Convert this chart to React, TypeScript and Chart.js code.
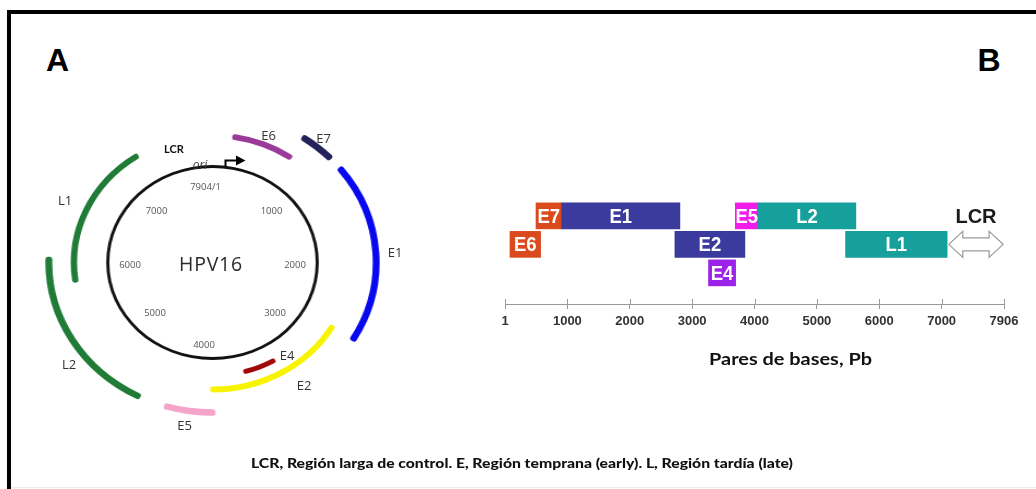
import React, { useEffect, useLayoutEffect, useRef } from 'react';
import { Chart, registerables } from 'chart.js';

Chart.register(...registerables);

// ---------------- Panel A: circular genome map (positions in bp) ----------------
const GENOME_LENGTH = 7904;
const outerRingGenes = ['E7', 'E1', 'E5', 'L2'];
const outerRingStarts = [727, 1113, 3930, 4527];
const outerRingEnds = [1019, 2668, 4330, 5976];
const middleRingGenes = ['E6', 'E2', 'L1'];
const middleRingStarts = [180, 2628, 5728];
const middleRingEnds = [764, 3974, 7193];
const innerRingGenes = ['E4'];
const innerRingStarts = [3282];
const innerRingEnds = [3634];
const circleTickLabels = ['7904/1', '1000', '2000', '3000', '4000', '5000', '6000', '7000'];

// ---------------- Panel B: linear genome map ----------------
const barGenes = ['E7', 'E1', 'E5', 'L2', 'E6', 'E2', 'L1', 'E4'];
const barRows = [1, 1, 1, 1, 2, 2, 2, 3];
const barStarts = [497, 909, 3692, 4061, 80, 2724, 5460, 3263];
const barEnds = [909, 2804, 4061, 5625, 571, 3846, 7088, 3697];
const lcrLabel = 'LCR';
const lcrRange = [7115, 7986];
const lcrRow = 2;
const xTickValues = [0, 1000, 2000, 3000, 4000, 5000, 6000, 7000, 8000];
const xTickLabels = ['1', '1000', '2000', '3000', '4000', '5000', '6000', '7000', '7906'];
const xAxisTitle = 'Pares de bases, Pb';
const caption = 'LCR, Región larga de control. E, Región temprana (early). L, Región tardía (late)';

// ---------------- styles ----------------
const ringColors: Record<string, string> = {
  E7: '#23235a', E1: '#0808ef', E5: '#f4a5c9', L2: '#1f7b35',
  E6: '#9a3b9a', E2: '#f8f400', L1: '#1f7b35', E4: '#a10909',
};
const barColors: Record<string, string> = {
  E7: '#da4a1c', E6: '#da4a1c', E1: '#3b3a9d', E2: '#3b3a9d',
  E5: '#f21ce9', E4: '#9c22ea', L2: '#15a09b', L1: '#15a09b',
};
const TRANSPARENT = 'rgba(0,0,0,0)';

// label placements for panel A (page px)
const ringLabelPos: Record<string, [number, number]> = {
  LCR: [174, 147.5], E6: [268.5, 134.5], E7: [323.5, 137.5], E1: [395, 251.5],
  E4: [287, 354.5], E2: [304, 385], E5: [184.5, 424.5], L2: [69, 363.5], L1: [65, 200],
};
const circleTickPos: [number, number][] = [
  [205.5, 186.5], [271.5, 211], [295, 264.5], [275, 312.5],
  [204, 345], [155, 312.5], [130, 264.5], [156.5, 211],
];

function ringSegments(genes: string[], starts: number[], ends: number[]) {
  const data: number[] = [];
  const bg: string[] = [];
  let pos = 0;
  genes.forEach((g, i) => {
    if (starts[i] > pos) { data.push(starts[i] - pos); bg.push(TRANSPARENT); }
    data.push(ends[i] - starts[i]);
    bg.push(ringColors[g]);
    pos = ends[i];
  });
  if (pos < GENOME_LENGTH) { data.push(GENOME_LENGTH - pos); bg.push(TRANSPARENT); }
  return { data, bg };
}

function FitText(props: { text: string; left: number; cy: number; width: number; font: string; color: string }) {
  const ref = useRef<HTMLSpanElement>(null);
  useLayoutEffect(() => {
    const el = ref.current;
    if (!el) return;
    el.style.transform = 'translateY(-50%)';
    const w = el.getBoundingClientRect().width;
    if (w > 0) el.style.transform = `translateY(-50%) scaleX(${props.width / w})`;
  }, [props.text, props.width, props.font]);
  return (
    <span
      ref={ref}
      style={{
        position: 'absolute', left: props.left, top: props.cy, whiteSpace: 'nowrap',
        font: props.font, color: props.color, lineHeight: 1, transformOrigin: 'left center',
      }}
    >
      {props.text}
    </span>
  );
}

function Label(props: { text: string; x: number; y: number; font: string; color: string; ls?: number }) {
  return (
    <span
      style={{
        position: 'absolute', left: props.x, top: props.y, transform: 'translate(-50%, -50%)',
        whiteSpace: 'nowrap', font: props.font, color: props.color, lineHeight: 1,
        letterSpacing: props.ls ? `${props.ls}px` : undefined,
      }}
    >
      {props.text}
    </span>
  );
}

export default function App() {
  const circleRef = useRef<HTMLCanvasElement>(null);
  const barRef = useRef<HTMLCanvasElement>(null);

  useEffect(() => {
    const outer = ringSegments(outerRingGenes, outerRingStarts, outerRingEnds);
    const middle = ringSegments(middleRingGenes, middleRingStarts, middleRingEnds);
    const inner = ringSegments(innerRingGenes, innerRingStarts, innerRingEnds);
    const common = { borderWidth: 0, hoverBorderWidth: 0, borderAlign: 'inner' as const, offset: 0, hoverOffset: 0 };
    const circle = new Chart(circleRef.current!, {
      type: 'doughnut',
      data: {
        datasets: [
          { data: outer.data, backgroundColor: outer.bg, weight: 7, borderRadius: 2.5, ...common },
          { data: [1], backgroundColor: [TRANSPARENT], weight: 16.25, ...common },
          { data: middle.data, backgroundColor: middle.bg, weight: 6.5, borderRadius: 2.5, ...common },
          { data: [1], backgroundColor: [TRANSPARENT], weight: 8, ...common },
          { data: inner.data, backgroundColor: inner.bg, weight: 5.5, borderRadius: 2, ...common },
          { data: [1], backgroundColor: [TRANSPARENT], weight: 12.5, ...common },
          { data: [GENOME_LENGTH], backgroundColor: ['#111111'], weight: 3.5, ...common },
        ] as any,
      },
      options: {
        responsive: false,
        animation: false,
        events: [],
        cutout: 94.25,
        layout: { padding: 0 },
        plugins: { legend: { display: false }, tooltip: { enabled: false } },
      } as any,
    });

    const overlayPlugin = {
      id: 'geneOverlay',
      afterDatasetsDraw(chart: any) {
        const ctx = chart.ctx;
        const xs = chart.scales.x;
        const ys = chart.scales.y;
        const meta = chart.getDatasetMeta(0);
        // gene names on bars
        meta.data.forEach((el: any, i: number) => {
          const p = el.getProps(['x', 'base', 'y'], true);
          ctx.save();
          ctx.translate((p.x + p.base) / 2, p.y + 1);
          ctx.scale(0.88, 1);
          ctx.fillStyle = '#ffffff';
          ctx.font = 'bold 21px "Liberation Sans", Arial, sans-serif';
          ctx.textAlign = 'center';
          ctx.textBaseline = 'middle';
          ctx.fillText(barGenes[i], 0, 0);
          ctx.restore();
        });
        // LCR double arrow
        const x0 = xs.getPixelForValue(lcrRange[0]);
        const x1 = xs.getPixelForValue(lcrRange[1]);
        const yc = ys.getPixelForValue(lcrRow);
        const hh = 13, sh = 6.5, head = 14;
        ctx.save();
        ctx.beginPath();
        ctx.moveTo(x0, yc);
        ctx.lineTo(x0 + head, yc - hh);
        ctx.lineTo(x0 + head, yc - sh);
        ctx.lineTo(x1 - head, yc - sh);
        ctx.lineTo(x1 - head, yc - hh);
        ctx.lineTo(x1, yc);
        ctx.lineTo(x1 - head, yc + hh);
        ctx.lineTo(x1 - head, yc + sh);
        ctx.lineTo(x0 + head, yc + sh);
        ctx.lineTo(x0 + head, yc + hh);
        ctx.closePath();
        ctx.fillStyle = '#ffffff';
        ctx.fill();
        ctx.strokeStyle = '#9a9a9a';
        ctx.lineWidth = 1.2;
        ctx.stroke();
        ctx.fillStyle = '#1a1a1a';
        ctx.font = 'bold 20px "Liberation Sans", Arial, sans-serif';
        ctx.textAlign = 'center';
        ctx.textBaseline = 'middle';
        ctx.fillText(lcrLabel, (x0 + x1) / 2, ys.getPixelForValue(1) + 2);
        // upward half of the tick marks
        const yb = chart.chartArea.bottom;
        ctx.strokeStyle = '#999999';
        ctx.lineWidth = 1;
        xs.ticks.forEach((t: any) => {
          const px = Math.round(xs.getPixelForValue(t.value)) + 0.5;
          ctx.beginPath();
          ctx.moveTo(px, yb - 5);
          ctx.lineTo(px, yb);
          ctx.stroke();
        });
        ctx.restore();
      },
    };

    const bars = new Chart(barRef.current!, {
      type: 'bar',
      data: {
        datasets: [
          {
            data: barGenes.map((g, i) => ({ x: [barStarts[i], barEnds[i]], y: barRows[i] })),
            backgroundColor: barGenes.map((g) => barColors[g]),
            borderWidth: 0,
            barThickness: 26,
          },
        ] as any,
      },
      options: {
        indexAxis: 'y',
        responsive: false,
        animation: false,
        events: [],
        layout: { padding: { left: 25, right: 32, top: 17, bottom: 36 } },
        plugins: { legend: { display: false }, tooltip: { enabled: false } },
        scales: {
          x: {
            type: 'linear',
            position: 'bottom',
            min: 0,
            max: 8000,
            afterBuildTicks: (s: any) => { s.ticks = xTickValues.map((v) => ({ value: v })); },
            afterFit: (s: any) => { s.height = 30; },
            ticks: {
              callback: (_v: any, i: number) => xTickLabels[i],
              color: '#333333',
              font: { family: '"Liberation Sans", Arial, sans-serif', size: 13, weight: 'bold' },
              padding: 5,
              maxRotation: 0,
              autoSkip: false,
            },
            grid: { drawOnChartArea: false, drawTicks: true, tickLength: 5, color: '#999999', lineWidth: 1 },
            border: { display: true, color: '#999999', width: 1 },
          },
          y: { type: 'linear', min: 0.5, max: 3.579, reverse: true, display: false },
        },
      } as any,
      plugins: [overlayPlugin],
    });

    return () => { circle.destroy(); bars.destroy(); };
  }, []);

  const allRingGenes = [...outerRingGenes, ...middleRingGenes, ...innerRingGenes];

  return (
    <div style={{ position: 'fixed', left: 0, top: 0, width: 1036, height: 489, background: '#ffffff', overflow: 'hidden' }}>
      {/* frame */}
      <div style={{ position: 'absolute', left: 7, top: 10, width: 1040, height: 490, borderTop: '4px solid #000', borderLeft: '4px solid #000', boxSizing: 'border-box' }} />
      <div style={{ position: 'absolute', left: 11, top: 487, width: 1030, height: 1, background: '#ececec' }} />

      <Label text="A" x={57.5} y={60} font='bold 32px "Liberation Sans", Arial, sans-serif' color="#000" />
      <Label text="B" x={989} y={60} font='bold 32px "Liberation Sans", Arial, sans-serif' color="#000" />

      {/* Panel A */}
      <canvas ref={circleRef} width={307} height={307} style={{ position: 'absolute', left: 45, top: 109, width: 335, height: 307 }} />
      <svg width={1036} height={489} style={{ position: 'absolute', left: 0, top: 0 }}>
        <path d="M225.5 167 V160.5 H237" stroke="#000" strokeWidth={2} fill="none" />
        <polygon points="236,155.5 245.5,160.5 236,165.5" fill="#000" />
      </svg>
      <Label text="LCR" x={ringLabelPos.LCR[0]} y={ringLabelPos.LCR[1]} font='bold 11px Lato, sans-serif' color="#111" />
      {allRingGenes.map((g) => (
        <Label key={g} text={g} x={ringLabelPos[g][0]} y={ringLabelPos[g][1]} font='13px "Open Sans", sans-serif' color="#333" />
      ))}
      {circleTickLabels.map((t, i) => (
        <Label key={t} text={t} x={circleTickPos[i][0]} y={circleTickPos[i][1]} font='9.5px "Open Sans", sans-serif' color="#555" />
      ))}
      <Label text="ori" x={200} y={165} font='italic 12px "Open Sans", sans-serif' color="#333" />
      <Label text="HPV16" x={211} y={264} font='19.5px "Open Sans", sans-serif' color="#2a2a2a" ls={0.8} />

      {/* Panel B */}
      <canvas ref={barRef} width={556} height={200} style={{ position: 'absolute', left: 480, top: 170, width: 556, height: 200 }} />
      <FitText text={xAxisTitle} left={709} cy={358} width={163} font='bold 17px Lato, sans-serif' color="#111" />

      <FitText text={caption} left={251} cy={464} width={542} font='900 12.5px Lato, sans-serif' color="#111" />
    </div>
  );
}
